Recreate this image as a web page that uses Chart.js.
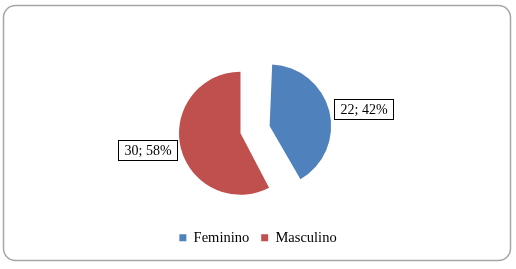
<!DOCTYPE html>
<html>
<head>
<meta charset="utf-8">
<script src="https://cdn.jsdelivr.net/npm/chart.js@4.4.1/dist/chart.umd.min.js"></script>
<style>
  html, body { margin: 0; padding: 0; background: #fff; }
  #wrap { width: 516px; height: 269px; position: relative; }
</style>
</head>
<body>
<div id="wrap"><canvas id="pieChart"></canvas></div>
<script>
// DATA
const categories = ['Feminino', 'Masculino'];
const counts = [22, 30];
const sliceColors = ['#4F81BD', '#C0504D'];
const explode = [120, 0]; // chart.js divides arc offset by 4

const total = counts.reduce((a, b) => a + b, 0);

Chart.defaults.font.family = '"Liberation Serif", "Times New Roman", serif';

// how much chart.js grows an exploded slice's radius
function radiusGrowth(arc) {
  const off = (arc.options.offset || 0) / 4;
  return off * (1 - Math.sin(Math.min(Math.PI, arc.circumference)));
}

// rounded frame around the whole chart
const framePlugin = {
  id: 'frame',
  beforeDraw(chart) {
    const ctx = chart.ctx;
    ctx.save();
    ctx.strokeStyle = '#a6a6a6';
    ctx.lineWidth = 1.5;
    ctx.beginPath();
    ctx.roundRect(3.5, 5.5, 507, 255, 12);
    ctx.stroke();
    ctx.restore();
  }
};

// move the pie a bit left of the legend centre
const shiftPlugin = {
  id: 'shiftPie',
  afterLayout(chart) {
    const a = chart.chartArea;
    a.left -= 17.5;
    a.right -= 17.5;
  }
};

// exploded slice keeps the same radius as the other one
const radiusFix = {
  id: 'radiusFix',
  afterDatasetsUpdate(chart) {
    chart.getDatasetMeta(0).data.forEach(arc => {
      arc.outerRadius -= radiusGrowth(arc);
    });
  }
};

// boxed "value; percent" labels outside the slices
const boxLabels = {
  id: 'boxLabels',
  afterDatasetsDraw(chart) {
    const ctx = chart.ctx;
    const meta = chart.getDatasetMeta(0);
    ctx.save();
    ctx.font = '14px "Liberation Serif"';
    ctx.textBaseline = 'middle';
    meta.data.forEach((arc, i) => {
      const mid = (arc.startAngle + arc.endAngle) / 2;
      const shift = (arc.options.offset || 0) / 4;
      const r = arc.outerRadius + radiusGrowth(arc) + shift;
      const px = arc.x + Math.cos(mid) * r;
      const py = arc.y + Math.sin(mid) * r + Math.sin(mid) * 10;
      const text = counts[i] + '; ' + Math.round(counts[i] / total * 100) + '%';
      const w = Math.round(ctx.measureText(text).width + 12);
      const h = 20;
      const left = Math.round(Math.cos(mid) >= 0 ? px + 5 : px - 4 - w);
      const top = Math.round(py - h / 2);
      ctx.fillStyle = '#fff';
      ctx.fillRect(left, top, w, h);
      ctx.strokeStyle = '#000';
      ctx.lineWidth = 1;
      ctx.strokeRect(left + 0.5, top + 0.5, w, h);
      ctx.fillStyle = '#000';
      ctx.fillText(text, left + 6.5, top + h / 2 + 1);
    });
    ctx.restore();
  }
};

const ctx = document.getElementById('pieChart').getContext('2d');
const pieChart = new Chart(ctx, {
  type: 'pie',
  data: {
    labels: categories,
    datasets: [{
      data: counts,
      backgroundColor: sliceColors,
      borderWidth: 0,
      offset: explode
    }]
  },
  options: {
    responsive: true,
    maintainAspectRatio: false,
    animation: false,
    radius: 61.5,
    layout: {
      padding: { top: 48, bottom: 14, left: 0, right: 0 }
    },
    plugins: {
      legend: {
        position: 'bottom',
        labels: {
          boxWidth: 7,
          boxHeight: 7,
          padding: 12,
          color: '#000',
          font: { family: '"Liberation Serif", "Times New Roman", serif', size: 14.5 }
        }
      },
      tooltip: { enabled: false }
    }
  },
  plugins: [framePlugin, shiftPlugin, radiusFix, boxLabels]
});
</script>
</body>
</html>
